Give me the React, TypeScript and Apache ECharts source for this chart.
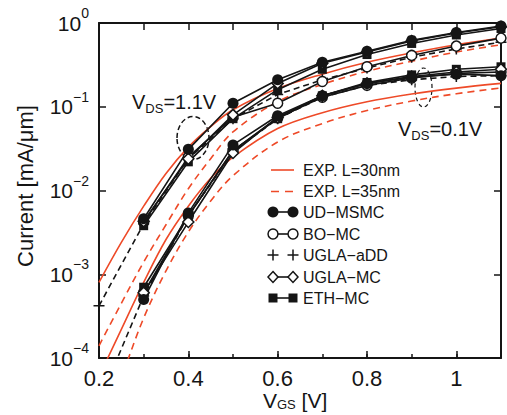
import React, { useEffect, useRef } from "react";
import * as echarts from "echarts";

// ---------- data ----------
const V_SIM = [0.3, 0.4, 0.5, 0.6, 0.7, 0.8, 0.9, 1.0, 1.1];
const V_SIM_ADD = [0.2, 0.3, 0.4, 0.5, 0.6, 0.7, 0.8, 0.9, 1.0, 1.1];
const V_EXP = [0.2, 0.25, 0.3, 0.35, 0.4, 0.45, 0.5, 0.6, 0.7, 0.8, 0.9, 1.0, 1.1];

// VDS = 1.1 V
const UD_MSMC_HI = [4.6e-3, 0.031, 0.11, 0.21, 0.34, 0.46, 0.62, 0.77, 0.92];
const BO_MC_HI = [4.2e-3, 0.025, 0.075, 0.11, 0.2, 0.3, 0.41, 0.53, 0.66];
const UGLA_ADD_HI = [4.2e-4, 4.0e-3, 0.024, 0.072, 0.14, 0.21, 0.29, 0.39, 0.49, 0.59];
const UGLA_MC_HI = [4.3e-3, 0.024, 0.08, 0.19, 0.33, 0.45, 0.61, 0.76, 0.9];
const ETH_MC_HI = [3.8e-3, 0.022, 0.072, 0.16, 0.28, 0.42, 0.57, 0.72, 0.86];

// VDS = 0.1 V
const UD_MSMC_LO = [5.0e-4, 5.4e-3, 0.035, 0.078, 0.135, 0.19, 0.225, 0.245, 0.235];
const BO_MC_LO = [6.0e-4, 5.0e-3, 0.03, 0.074, 0.13, 0.18, 0.22, 0.25, 0.26];
const UGLA_ADD_LO = [3.0e-5, 5.5e-4, 5.0e-3, 0.029, 0.072, 0.13, 0.18, 0.21, 0.23, 0.235];
const UGLA_MC_LO = [6.0e-4, 4.2e-3, 0.028, 0.075, 0.135, 0.19, 0.23, 0.26, 0.28];
const ETH_MC_LO = [7.0e-4, 5.0e-3, 0.03, 0.072, 0.135, 0.195, 0.24, 0.28, 0.3];

// experiments
const EXP30_HI = [8e-4, 2.4e-3, 6.5e-3, 0.016, 0.033, 0.058, 0.092, 0.165, 0.245, 0.34, 0.44, 0.55, 0.66];
const EXP35_HI = [1.4e-4, 4.5e-4, 1.4e-3, 3.9e-3, 0.0105, 0.024, 0.05, 0.115, 0.185, 0.265, 0.35, 0.45, 0.55];
const EXP30_LO = [6e-5, 2.2e-4, 8e-4, 2.6e-3, 6.5e-3, 0.014, 0.025, 0.055, 0.085, 0.115, 0.142, 0.167, 0.19];
const EXP35_LO = [1.5e-5, 6e-5, 3e-4, 1.1e-3, 3.2e-3, 7.5e-3, 0.015, 0.038, 0.063, 0.09, 0.117, 0.143, 0.168];

const X_TICKS_LABELED = [0.2, 0.4, 0.6, 0.8, 1.0];
const LEGEND_NAMES = ["EXP. L=30nm", "EXP. L=35nm", "UD\u2212MSMC", "BO\u2212MC", "UGLA\u2212aDD", "UGLA\u2212MC", "ETH\u2212MC"];

// ---------- styles ----------
const FONT = '"Liberation Sans", Arial, Helvetica, sans-serif';
const BLACK = "#151515";
const RED = "#ee4a28";
const PLUS = "path://M4.3,0H5.7V4.3H10V5.7H5.7V10H4.3V5.7H0V4.3H4.3Z";

function simSeries(name: string, xs: number[], ys: number[], symbol: string, fill: string, dashed: boolean, size: number) {
  return {
    type: "line",
    name,
    data: xs.map((x, i) => [x, ys[i]]),
    symbol,
    symbolSize: size,
    showSymbol: true,
    clip: true,
    z: 4,
    lineStyle: { color: BLACK, width: 1.6, type: dashed ? [6, 4] : "solid" },
    itemStyle: { color: fill, borderColor: BLACK, borderWidth: fill === BLACK ? 0 : 1.5 },
    emphasis: { disabled: true },
  };
}

function expSeries(name: string, ys: number[], dashed: boolean) {
  return {
    type: "line",
    name,
    data: V_EXP.map((x, i) => [x, ys[i]]),
    showSymbol: false,
    symbol: "none",
    smooth: 0.35,
    clip: true,
    z: 3,
    lineStyle: { color: RED, width: 1.6, type: dashed ? [7, 5] : "solid" },
    emphasis: { disabled: true },
  };
}

function legendGraphic() {
  const rows = [170, 191.5, 212, 234, 255, 277, 298];
  const x1 = 273, x2 = 293;
  const els: any[] = [];
  rows.forEach((y, i) => {
    els.push({
      type: "text",
      x: 303,
      y,
      style: { text: LEGEND_NAMES[i], fontSize: 16, fontFamily: FONT, fill: BLACK, verticalAlign: "middle", align: "left" },
    });
  });
  // EXP lines
  els.push({ type: "line", shape: { x1: 271, y1: rows[0], x2: 294, y2: rows[0] }, style: { stroke: RED, lineWidth: 1.6 } });
  els.push({ type: "line", shape: { x1: 271, y1: rows[1], x2: 294, y2: rows[1] }, style: { stroke: RED, lineWidth: 1.6, lineDash: [8, 6] } });
  // UD-MSMC
  els.push({ type: "line", shape: { x1, y1: rows[2], x2, y2: rows[2] }, style: { stroke: BLACK, lineWidth: 1.6 } });
  els.push({ type: "circle", shape: { cx: x1, cy: rows[2], r: 5.5 }, style: { fill: BLACK } });
  els.push({ type: "circle", shape: { cx: x2, cy: rows[2], r: 5.5 }, style: { fill: BLACK } });
  // BO-MC
  els.push({ type: "line", shape: { x1, y1: rows[3], x2, y2: rows[3] }, style: { stroke: BLACK, lineWidth: 1.6 } });
  els.push({ type: "circle", shape: { cx: x1, cy: rows[3], r: 5 }, style: { fill: "#fff", stroke: BLACK, lineWidth: 1.5 } });
  els.push({ type: "circle", shape: { cx: x2, cy: rows[3], r: 5 }, style: { fill: "#fff", stroke: BLACK, lineWidth: 1.5 } });
  // UGLA-aDD
  [x1, x2].forEach((cx) => {
    els.push({ type: "line", shape: { x1: cx - 5.5, y1: rows[4], x2: cx + 5.5, y2: rows[4] }, style: { stroke: BLACK, lineWidth: 1.5 } });
    els.push({ type: "line", shape: { x1: cx, y1: rows[4] - 5.5, x2: cx, y2: rows[4] + 5.5 }, style: { stroke: BLACK, lineWidth: 1.5 } });
  });
  // UGLA-MC
  els.push({ type: "line", shape: { x1, y1: rows[5], x2, y2: rows[5] }, style: { stroke: BLACK, lineWidth: 1.6 } });
  [x1, x2].forEach((cx) => {
    els.push({
      type: "polygon",
      shape: { points: [[cx, rows[5] - 5.5], [cx + 5, rows[5]], [cx, rows[5] + 5.5], [cx - 5, rows[5]]] },
      style: { fill: "#fff", stroke: BLACK, lineWidth: 1.5 },
    });
  });
  // ETH-MC
  els.push({ type: "line", shape: { x1, y1: rows[6], x2, y2: rows[6] }, style: { stroke: BLACK, lineWidth: 1.6 } });
  [x1, x2].forEach((cx) => {
    els.push({ type: "rect", shape: { x: cx - 4.5, y: rows[6] - 4.5, width: 9, height: 9 }, style: { fill: BLACK } });
  });
  return els;
}

function annotationGraphic() {
  const rich = {
    v: { fontSize: 20, fontFamily: FONT, fill: BLACK, color: BLACK },
    s: { fontSize: 13, fontFamily: FONT, fill: BLACK, color: BLACK, padding: [12, 0, 0, 0] },
  };
  return [
    {
      type: "text",
      x: 132,
      y: 102,
      style: { text: "{v|V}{s|DS}{v|=1.1V}", rich, verticalAlign: "middle", align: "left" },
    },
    {
      type: "text",
      x: 398,
      y: 129,
      style: { text: "{v|V}{s|DS}{v|=0.1V}", rich, verticalAlign: "middle", align: "left" },
    },
    {
      type: "ellipse",
      shape: { cx: 193, cy: 138, rx: 16, ry: 21.5 },
      style: { fill: "none", stroke: BLACK, lineWidth: 1.5, lineDash: [5, 3] },
    },
    {
      type: "ellipse",
      shape: { cx: 423.5, cy: 87.5, rx: 8.5, ry: 19.5 },
      style: { fill: "none", stroke: BLACK, lineWidth: 1.2, lineDash: [4, 3] },
    },
    {
      type: "text",
      x: 263,
      y: 400,
      style: {
        text: "{v|V}{s|GS}{v| [V]}",
        rich: {
          v: { fontSize: 21, fontFamily: FONT, fill: BLACK, color: BLACK },
          s: { fontSize: 13, fontFamily: FONT, fill: BLACK, color: BLACK, padding: [9, 0, 0, 0] },
        },
        verticalAlign: "middle",
        align: "left",
      },
    },
    {
      type: "text",
      x: 25,
      y: 186,
      rotation: Math.PI / 2,
      style: { text: "Current [mA/\u03bcm]", fontSize: 22, fontFamily: FONT, fill: BLACK, align: "center", verticalAlign: "middle" },
    },
  ];
}

export default function App() {
  const ref = useRef<HTMLDivElement>(null);
  useEffect(() => {
    if (!ref.current) return;
    const chart = echarts.init(ref.current, undefined, { renderer: "svg" });
    const axisLine = { show: true, onZero: false, lineStyle: { color: BLACK, width: 2 } };
    const tickStyle = { color: BLACK, width: 1.5 };
    const xBase = { type: "value", min: 0.2, max: 1.1, splitLine: { show: false } };
    const yBase = { type: "log", logBase: 10, min: 1e-4, max: 1, splitLine: { show: false } };
    const option: any = {
      animation: false,
      backgroundColor: "#fff",
      grid: { left: 99, right: 6, top: 23, bottom: 57, containLabel: false },
      xAxis: [
        {
          ...xBase,
          position: "bottom",
          interval: 0.2,
          axisLine,
          axisTick: { inside: true, length: 7, lineStyle: tickStyle },
          axisLabel: {
            fontSize: 22,
            fontFamily: FONT,
            color: BLACK,
            margin: 9,
            formatter: (v: number) => {
              const r = Math.round(v * 10) / 10;
              if (!X_TICKS_LABELED.includes(r)) return "";
              return r === 1 ? "1" : r.toFixed(1);
            },
          },
        },
        {
          ...xBase,
          position: "bottom",
          interval: 0.1,
          axisLine: { show: false },
          axisTick: { inside: true, length: 4, lineStyle: tickStyle },
          axisLabel: { show: false },
        },
        {
          ...xBase,
          position: "top",
          interval: 0.1,
          axisLine,
          axisTick: { inside: true, length: 7, lineStyle: tickStyle },
          axisLabel: { show: false },
        },
      ],
      yAxis: [
        {
          ...yBase,
          position: "left",
          axisLine,
          axisTick: { inside: true, length: 7, lineStyle: tickStyle },
          axisLabel: {
            margin: 10,
            formatter: (v: number) => {
              const e = Math.round(Math.log10(v));
              const es = e < 0 ? "\u2212" + -e : String(e);
              return "{b|10}{e|" + es + "}";
            },
            rich: {
              b: { fontSize: 21, fontFamily: FONT, color: BLACK },
              e: { fontSize: 14, fontFamily: FONT, color: BLACK, padding: [0, 0, 20, 0] },
            },
          },
        },
        {
          ...yBase,
          position: "right",
          axisLine,
          axisTick: { inside: true, length: 7, lineStyle: tickStyle },
          axisLabel: { show: false },
        },
      ],
      series: [
        expSeries("EXP. L=30nm", EXP30_HI, false),
        expSeries("EXP. L=30nm", EXP30_LO, false),
        expSeries("EXP. L=35nm", EXP35_HI, true),
        expSeries("EXP. L=35nm", EXP35_LO, true),
        simSeries("UGLA-aDD", V_SIM_ADD, UGLA_ADD_HI, PLUS, BLACK, true, 11),
        simSeries("UGLA-aDD", V_SIM_ADD, UGLA_ADD_LO, PLUS, BLACK, true, 11),
        simSeries("BO-MC", V_SIM, BO_MC_HI, "circle", "#fff", false, 10),
        simSeries("BO-MC", V_SIM, BO_MC_LO, "circle", "#fff", false, 10),
        simSeries("ETH-MC", V_SIM, ETH_MC_HI, "rect", BLACK, false, 9),
        simSeries("ETH-MC", V_SIM, ETH_MC_LO, "rect", BLACK, false, 9),
        simSeries("UGLA-MC", V_SIM, UGLA_MC_HI, "diamond", "#fff", false, 11),
        simSeries("UGLA-MC", V_SIM, UGLA_MC_LO, "diamond", "#fff", false, 11),
        simSeries("UD-MSMC", V_SIM, UD_MSMC_HI, "circle", BLACK, false, 11),
        simSeries("UD-MSMC", V_SIM, UD_MSMC_LO, "circle", BLACK, false, 11),
      ],
      graphic: [...legendGraphic(), ...annotationGraphic()],
    };
    chart.setOption(option);
    return () => chart.dispose();
  }, []);
  return (
    <div
      ref={ref}
      style={{ position: "fixed", left: 0, top: 0, width: 507, height: 415, background: "#fff" }}
    />
  );
}
